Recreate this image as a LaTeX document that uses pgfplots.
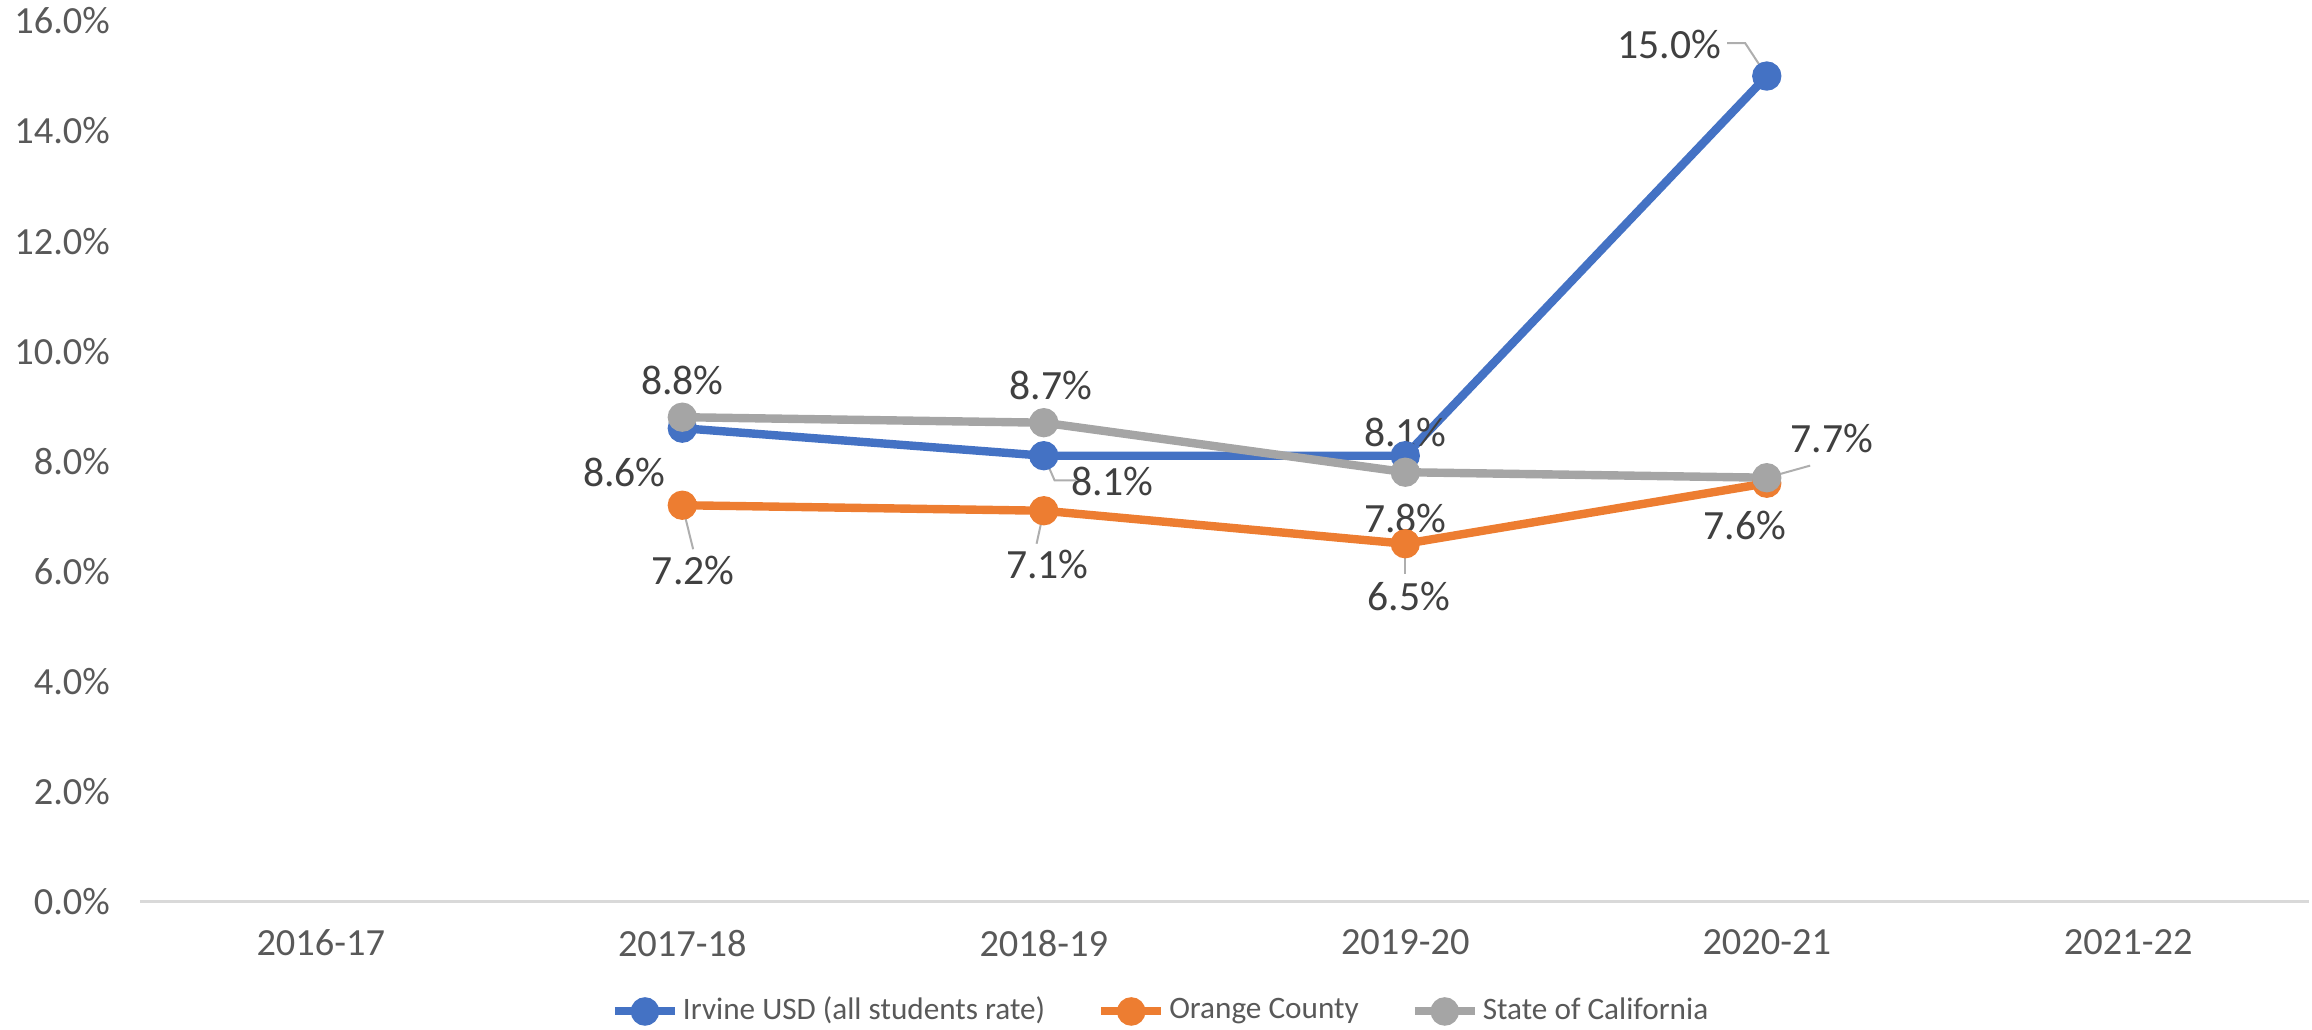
\documentclass[border=0pt]{standalone}
\usepackage{pgfplots}
\pgfplotsset{compat=1.18}
\usepackage{fontspec}
\setmainfont{Carlito}
\definecolor{cblue}{HTML}{4472C4}
\definecolor{corange}{HTML}{ED7D31}
\definecolor{cgray}{HTML}{A5A5A5}
\definecolor{ctext}{HTML}{595959}
\definecolor{clabel}{HTML}{404040}
\definecolor{caxis}{HTML}{D9D9D9}
\begin{document}
\begin{tikzpicture}
\begin{axis}[
  name=ax,
  scale only axis,
  width=542pt, height=220pt,
  xmin=-0.5, xmax=5.5,
  ymin=0, ymax=16,
  xtick={0,1,2,3,4,5},
  xticklabels={2016-17,2017-18,2018-19,2019-20,2020-21,2021-22},
  ytick={0,2,4,6,8,10,12,14,16},
  yticklabel={\pgfmathprintnumber[fixed,fixed zerofill,precision=1]{\tick}\%},
  /pgf/number format/assume math mode=true,
  axis y line*=left, y axis line style={draw=none},
  axis x line*=bottom, x axis line style={draw=caxis, line width=0.6pt},
  major tick length=0pt,
  xticklabel style={font=\fontsize{9.6}{11}\selectfont, text=ctext, yshift=-3.6pt},
  yticklabel style={font=\fontsize{9.6}{11}\selectfont, text=ctext, xshift=-4pt},
  clip=false,
  legend style={at={(0.471,-0.125)}, anchor=center, draw=none, legend columns=3,
    inner sep=0pt, font=\fontsize{7.8}{9}\selectfont, text=ctext,
    /tikz/every odd column/.append style={column sep=0pt},
    /tikz/every even column/.append style={column sep=12pt},
    nodes={inner xsep=1pt}},
  legend image code/.code={
    \draw[#1, line width=2pt] (0pt,0pt) -- (15pt,0pt);
    \fill[#1] (7.5pt,0pt) circle (2.5pt);},
  every axis plot/.append style={line width=2.1pt, mark=*, mark size=2.6pt},
]
\addplot[color=cblue] coordinates {(1,8.6) (2,8.1) (3,8.1) (4,15.0)};
\addlegendentry{Irvine USD (all students rate)}
\addplot[color=corange] coordinates {(1,7.2) (2,7.1) (3,6.5) (4,7.6)};
\addlegendentry{Orange County}
\addplot[color=cgray] coordinates {(1,8.8) (2,8.7) (3,7.8) (4,7.7)};
\addlegendentry{State of California}

% leader lines
\tikzset{ll/.style={draw=cgray!90, line width=0.5pt}}
\draw[ll] (axis cs:1,7.2) -- (axis cs:1.03,6.4);
\draw[ll] (axis cs:2,7.1) -- (axis cs:1.98,6.5);
\draw[ll] (axis cs:3,6.5) -- (axis cs:3,5.95);
\draw[ll] (axis cs:2,8.1) -- (axis cs:2.03,7.65) -- (axis cs:2.09,7.65);
\draw[ll] (axis cs:4,15.0) -- (axis cs:3.94,15.6) -- (axis cs:3.89,15.6);
\draw[ll] (axis cs:4,7.7) -- (axis cs:4.12,7.92);

\tikzset{dl/.style={font=\fontsize{10.4}{12}\selectfont, text=clabel, inner sep=1pt}}
% Irvine
\node[dl] at (axis cs:0.84,7.80) {8.6\%};
\node[dl] at (axis cs:2.19,7.63) {8.1\%};
\node[dl] at (axis cs:3.00,8.52) {8.1\%};
\node[dl] at (axis cs:3.73,15.57) {15.0\%};
% Orange County
\node[dl] at (axis cs:1.03,6.02) {7.2\%};
\node[dl] at (axis cs:2.01,6.13) {7.1\%};
\node[dl] at (axis cs:3.01,5.54) {6.5\%};
\node[dl] at (axis cs:3.94,6.83) {7.6\%};
% State
\node[dl] at (axis cs:1.00,9.46) {8.8\%};
\node[dl] at (axis cs:2.02,9.38) {8.7\%};
\node[dl] at (axis cs:3.00,6.96) {7.8\%};
\node[dl] at (axis cs:4.18,8.42) {7.7\%};
\end{axis}
\pgfresetboundingbox
\path ([shift={(-35pt,-32pt)}]ax.south west) rectangle ([shift={(0.75pt,5.25pt)}]ax.north east);
\end{tikzpicture}
\end{document}
